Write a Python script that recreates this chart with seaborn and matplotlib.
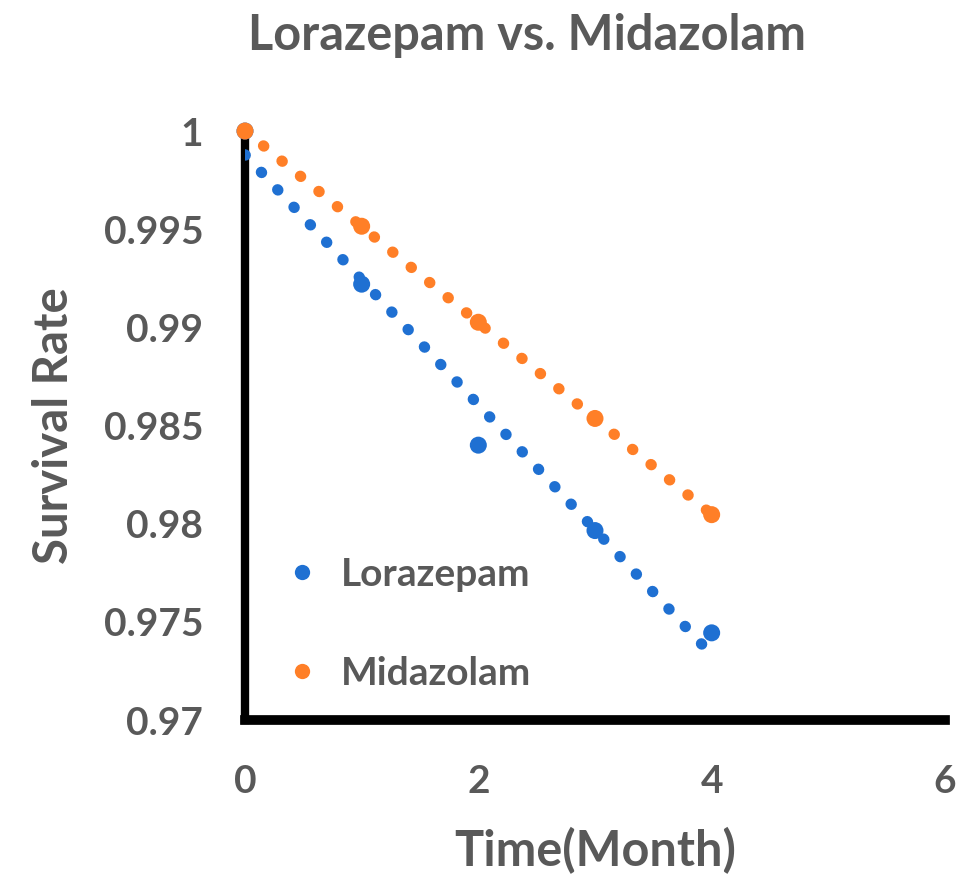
import numpy as np
import pandas as pd
import seaborn as sns
from matplotlib import pyplot as plt
from matplotlib.lines import Line2D

months = [0, 1, 2, 3, 4]
lorazepam = [1.0, 0.9922, 0.9840, 0.97965, 0.97444]
midazolam = [1.0, 0.99515, 0.99026, 0.98536, 0.98046]
series_names = ['Lorazepam', 'Midazolam']
x_ticks = [0, 2, 4, 6]
y_ticks = [0.97, 0.975, 0.98, 0.985, 0.99, 0.995, 1.0]
y_tick_labels = ['0.97', '0.975', '0.98', '0.985', '0.99', '0.995', '1']

colors = {'Lorazepam': '#1F70D2', 'Midazolam': '#FF7F27'}
text_gray = '#595959'

sns.set_style('white')
plt.rcParams['font.family'] = ['Lato', 'DejaVu Sans']
plt.rcParams['font.weight'] = 'bold'
plt.rcParams['axes.labelweight'] = 'bold'

df = pd.DataFrame({
    'Time': months * 2,
    'Survival': lorazepam + midazolam,
    'Drug': [series_names[0]] * len(months) + [series_names[1]] * len(months),
})

fig = plt.figure(figsize=(9.63, 8.77), dpi=100)
ax = fig.add_axes([0.2544, 0.179, 0.7269, 0.6716])

# dotted linear trendlines
for name in series_names:
    sub = df[df['Drug'] == name]
    sns.regplot(
        data=sub, x='Time', y='Survival', ax=ax, scatter=False, ci=None,
        color=colors[name],
        line_kws={'linestyle': (0, (0.05, 2.1)), 'dash_capstyle': 'round',
                  'linewidth': 8, 'zorder': 2},
    )

sns.scatterplot(
    data=df, x='Time', y='Survival', hue='Drug', palette=colors,
    s=150, edgecolor='none', legend=False, ax=ax, zorder=3, clip_on=False,
)

ax.set_xlim(0, 6)
ax.set_ylim(0.97, 1.0)
ax.set_xticks(x_ticks)
ax.set_xticklabels([str(t) for t in x_ticks])
ax.set_yticks(y_ticks)
ax.set_yticklabels(y_tick_labels)
ax.tick_params(axis='both', length=0, labelsize=28, colors=text_gray)
ax.tick_params(axis='x', pad=32)
ax.tick_params(axis='y', pad=30)

for side in ['top', 'right']:
    ax.spines[side].set_visible(False)
ax.spines['left'].set_linewidth(6)
ax.spines['bottom'].set_linewidth(7)
ax.spines['left'].set_color('black')
ax.spines['bottom'].set_color('black')
ax.spines['left'].set_zorder(1)
ax.spines['bottom'].set_zorder(1)

ax.set_xlabel('Time(Month)', fontsize=35, color=text_gray, labelpad=20)
ax.set_ylabel('Survival Rate', fontsize=34, color=text_gray, labelpad=20)
fig.text(0.547, 0.96, 'Lorazepam vs. Midazolam', ha='center', va='center',
         fontsize=35, color=text_gray, fontweight='bold')

handles = [Line2D([], [], linestyle='none', marker='o', markersize=11,
                  markerfacecolor=colors[n], markeredgecolor='none') for n in series_names]
leg = ax.legend(handles, series_names, frameon=False, loc='upper left',
                bbox_to_anchor=(0.053, 0.277), fontsize=28, labelspacing=1.65,
                handlelength=1.0, handletextpad=0.5, borderaxespad=0,
                borderpad=0)
for t in leg.get_texts():
    t.set_color(text_gray)

fig.savefig('out.png', dpi=100)
